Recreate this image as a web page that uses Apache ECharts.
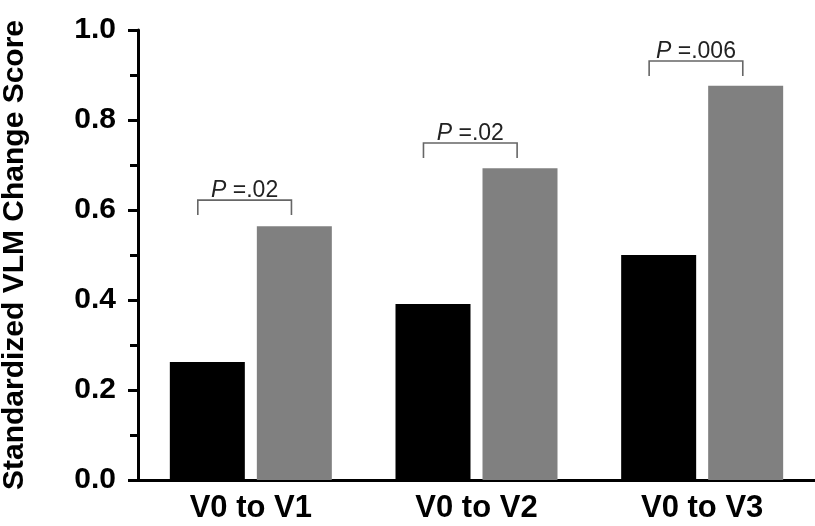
<!DOCTYPE html>
<html>
<head>
<meta charset="utf-8">
<script src="https://cdn.jsdelivr.net/npm/echarts@6/dist/echarts.min.js"></script>
<style>
html,body{margin:0;padding:0;background:#fff;}
#chart{width:815px;height:526px;}
</style>
</head>
<body>
<div id="chart"></div>
<script>
// ---- data ----
const categories = ['V0 to V1', 'V0 to V2', 'V0 to V3'];
const blackValues = [0.262, 0.391, 0.500];
const grayValues = [0.564, 0.693, 0.876];
const pValues = ['.02', '.02', '.006'];
const bracketLevels = [0.622, 0.749, 0.931];
const yTicks = [0.0, 0.2, 0.4, 0.6, 0.8, 1.0];

const FONT = '"Liberation Sans", Arial, Helvetica, sans-serif';
const bracketData = categories.map((c, i) => [i, bracketLevels[i], pValues[i]]);

const chart = echarts.init(document.getElementById('chart'));
chart.setOption({
  animation: false,
  backgroundColor: '#ffffff',
  grid: { left: 138, right: 0, top: 30, bottom: 46, containLabel: false, outerBoundsMode: 'none' },
  xAxis: {
    type: 'category',
    data: categories,
    axisLine: { lineStyle: { color: '#000', width: 3 } },
    axisTick: { show: false },
    axisLabel: { color: '#000', fontFamily: FONT, fontWeight: 'bold', fontSize: 31, margin: 13 }
  },
  yAxis: {
    type: 'value',
    min: yTicks[0],
    max: yTicks[yTicks.length - 1],
    interval: 0.2,
    name: 'Standardized VLM Change Score',
    nameLocation: 'middle',
    nameGap: 108,
    nameTextStyle: { color: '#000', fontFamily: FONT, fontWeight: 'bold', fontSize: 30 },
    axisLine: { show: true, lineStyle: { color: '#000', width: 3 } },
    axisTick: { show: true, length: 10, lineStyle: { color: '#000', width: 3 } },
    minorTick: { show: true, splitNumber: 2, length: 8, lineStyle: { color: '#000', width: 3 } },
    splitLine: { show: false },
    axisLabel: {
      color: '#000', fontFamily: FONT, fontWeight: 'bold', fontSize: 30, margin: 22,
      formatter: v => v.toFixed(1)
    }
  },
  series: [
    {
      type: 'bar', data: blackValues, barWidth: 75, barGap: '16%',
      itemStyle: { color: '#000000' }
    },
    {
      type: 'bar', data: grayValues, barWidth: 75,
      itemStyle: { color: '#808080' }
    },
    {
      type: 'custom',
      data: bracketData,
      z: 10,
      renderItem: function (params, api) {
        const idx = api.value(0);
        const pt = api.coord([idx, api.value(1)]);
        const band = api.size([1, 0])[0];
        const x1 = pt[0] - band * 0.235;
        const x2 = pt[0] + band * 0.18;
        const y = pt[1];
        const leg = 15;
        return {
          type: 'group',
          children: [
            {
              type: 'polyline',
              shape: { points: [[x1, y + leg], [x1, y], [x2, y], [x2, y + leg]] },
              style: { stroke: '#666', lineWidth: 1.6, fill: null }
            },
            {
              type: 'text',
              style: {
                x: (x1 + x2) / 2, y: y + 2,
                text: '{i|P} =' + pValues[idx],
                align: 'center', verticalAlign: 'bottom',
                fontFamily: FONT, fontSize: 23, fill: '#222',
                rich: { i: { fontStyle: 'italic', fontFamily: FONT, fontSize: 23, fill: '#222' } }
              }
            }
          ]
        };
      }
    }
  ]
});
</script>
</body>
</html>
